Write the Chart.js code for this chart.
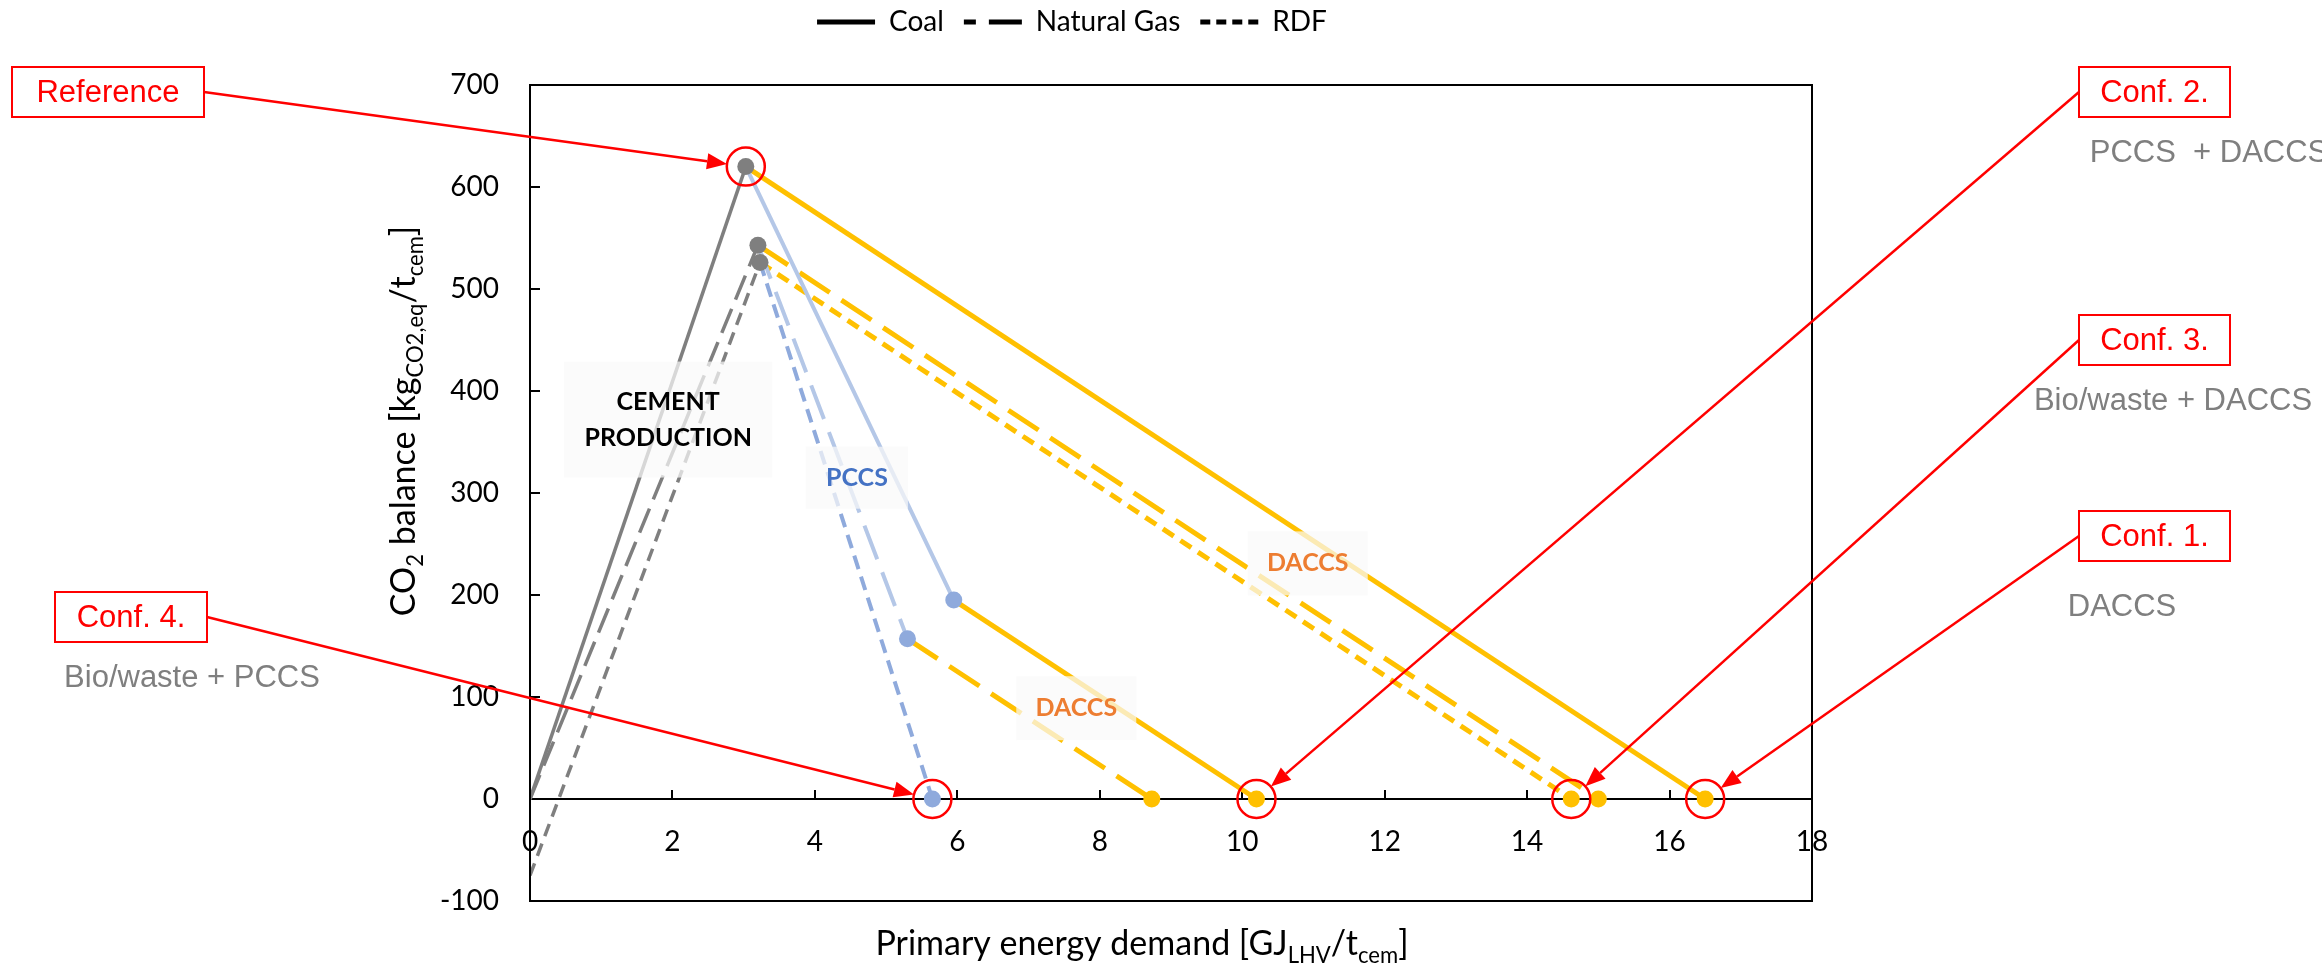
<!DOCTYPE html>
<html>
<head>
  <meta charset="utf-8">
  <title>CO2 balance vs primary energy demand</title>
  <style>
    html, body {
      margin: 0;
      padding: 0;
      background: #ffffff;
    }
    .chart-container {
      position: relative;
      width: 2322px;
      height: 966px;
    }
  </style>
  <script src="https://cdn.jsdelivr.net/npm/chart.js"></script>
</head>
<body>
  <div class="chart-container">
    <canvas id="chartCanvas"></canvas>
  </div>

  <script>
    // Fuels and the points of each path (energy in GJ/t cem, CO2 in kg CO2,eq/t cem)
    var fuels = ['Coal', 'Natural Gas', 'RDF'];
    var startEnergy = [0, 0, 0];
    var startCO2 = [0, 0, -75];
    var refEnergy = [3.03, 3.2, 3.23];
    var refCO2 = [620, 543, 526];
    var pccsEnergy = [5.95, 5.3, 5.65];
    var pccsCO2 = [195, 157, 0];
    var pccsDaccsEnergy = [10.2, 8.73, null];
    var pccsDaccsCO2 = [0, 0, null];
    var daccsEnergy = [16.5, 15.0, 14.62];
    var daccsCO2 = [0, 0, 0];

    // Tick labels
    var xTickValues = [0, 2, 4, 6, 8, 10, 12, 14, 16, 18];
    var yTickValues = [-100, 0, 100, 200, 300, 400, 500, 600, 700];

    // Styles
    var GRAY = '#7f7f7f';
    var YELLOW = '#ffc000';
    var BLUE_DOT = '#8faadc';
    var RED = '#ff0000';
    var blueLine = ['#b4c7e7', '#b4c7e7', '#8faadc'];
    var grayDash = [[], [26, 10], [13, 8]];
    var blueDash = [[], [36, 14], [14, 8]];
    var yellowDash = [[], [36, 14], [13, 8]];
    var legendDash = [[], [34, 13], [10, 6]];
    var legendDashOffset = [0, 22, 0];

    Chart.defaults.font.family = 'Lato';
    Chart.defaults.color = '#000';

    function segment(label, x0, y0, x1, y1, color, width, dash, dotColor) {
      return {
        label: label,
        data: [{ x: x0, y: y0 }, { x: x1, y: y1 }],
        borderColor: color,
        borderWidth: width,
        borderDash: dash,
        borderCapStyle: 'butt',
        pointRadius: [0, 8.5],
        pointBorderWidth: 0,
        pointBackgroundColor: dotColor,
        fill: false,
        tension: 0
      };
    }

    // gray first so that its dots end up on top
    var datasets = [];
    fuels.forEach(function(f, i) {
      datasets.push(segment(f + ' production', startEnergy[i], startCO2[i], refEnergy[i], refCO2[i], GRAY, 3.5, grayDash[i], GRAY));
    });
    fuels.forEach(function(f, i) {
      datasets.push(segment(f + ' PCCS', refEnergy[i], refCO2[i], pccsEnergy[i], pccsCO2[i], blueLine[i], 4, blueDash[i], BLUE_DOT));
    });
    fuels.forEach(function(f, i) {
      if (pccsDaccsEnergy[i] !== null) {
        datasets.push(segment(f + ' PCCS + DACCS', pccsEnergy[i], pccsCO2[i], pccsDaccsEnergy[i], pccsDaccsCO2[i], YELLOW, 5, yellowDash[i], YELLOW));
      }
      datasets.push(segment(f + ' DACCS', refEnergy[i], refCO2[i], daccsEnergy[i], daccsCO2[i], YELLOW, 5, yellowDash[i], YELLOW));
    });

    // Text labels inside the plot (positions in data units)
    var plotLabels = [
      { lines: ['CEMENT', 'PRODUCTION'], x: 1.94, y: 372, color: '#000000', w: 208, h: 116 },
      { lines: ['PCCS'], x: 4.59, y: 315, color: '#4472c4', w: 102, h: 62 },
      { lines: ['DACCS'], x: 10.92, y: 231, color: '#ed7d31', w: 120, h: 64 },
      { lines: ['DACCS'], x: 7.67, y: 89, color: '#ed7d31', w: 120, h: 64 }
    ];

    // Red call-outs: box in page pixels, target point from the data
    var callouts = [
      { title: 'Reference', note: '', box: [12, 67, 192, 50], side: 'right', pt: [refEnergy[0], refCO2[0]] },
      { title: 'Conf. 2.', note: 'PCCS  + DACCS', noteAt: [2209, 153], box: [2079, 67, 151, 50], side: 'left', pt: [pccsDaccsEnergy[0], pccsDaccsCO2[0]] },
      { title: 'Conf. 3.', note: 'Bio/waste + DACCS', noteAt: [2173, 401], box: [2079, 315, 151, 50], side: 'left', pt: [daccsEnergy[2], daccsCO2[2]] },
      { title: 'Conf. 1.', note: 'DACCS', noteAt: [2122, 607], box: [2079, 511, 151, 50], side: 'left', pt: [daccsEnergy[0], daccsCO2[0]] },
      { title: 'Conf. 4.', note: 'Bio/waste + PCCS', noteAt: [192, 678], box: [55, 592, 152, 50], side: 'right', pt: [pccsEnergy[2], pccsCO2[2]] }
    ];

    var yTitle = [['CO'], ['2', 1], [' balance [kg'], ['CO2,eq', 1], ['/t'], ['cem', 1], [']']];
    var xTitle = [['Primary energy demand [GJ'], ['LHV', 1], ['/t'], ['cem', 1], [']']];

    // Draws text with subscripts, centred on (x, y)
    function richText(ctx, parts, size, x, y, rotate) {
      ctx.save();
      ctx.translate(x, y);
      if (rotate) ctx.rotate(-Math.PI / 2);
      var total = 0;
      parts.forEach(function(p) {
        ctx.font = (p[1] ? size * 0.65 : size) + 'px Lato';
        total += ctx.measureText(p[0]).width;
      });
      var cx = -total / 2;
      ctx.fillStyle = '#000';
      ctx.textAlign = 'left';
      ctx.textBaseline = 'alphabetic';
      parts.forEach(function(p) {
        ctx.font = (p[1] ? size * 0.65 : size) + 'px Lato';
        ctx.fillText(p[0], cx, size * 0.36 + (p[1] ? size * 0.22 : 0));
        cx += ctx.measureText(p[0]).width;
      });
      ctx.restore();
    }

    var overlay = {
      id: 'overlay',
      afterDatasetsDraw: function(chart) {
        var ctx = chart.ctx, xs = chart.scales.x, ys = chart.scales.y;
        plotLabels.forEach(function(l) {
          var cx = xs.getPixelForValue(l.x), cy = ys.getPixelForValue(l.y);
          ctx.save();
          ctx.fillStyle = 'rgba(250,250,250,0.72)';
          ctx.fillRect(cx - l.w / 2, cy - l.h / 2, l.w, l.h);
          ctx.fillStyle = l.color;
          ctx.font = 'bold 25px Lato';
          ctx.textAlign = 'center';
          ctx.textBaseline = 'middle';
          l.lines.forEach(function(t, k) {
            ctx.fillText(t, cx, cy + (k - (l.lines.length - 1) / 2) * 36);
          });
          ctx.restore();
        });
      },
      afterDraw: function(chart) {
        var ctx = chart.ctx, a = chart.chartArea, xs = chart.scales.x, ys = chart.scales.y;

        // plot frame
        ctx.save();
        ctx.strokeStyle = '#000';
        ctx.lineWidth = 2;
        ctx.strokeRect(a.left, a.top, a.right - a.left, a.bottom - a.top);
        ctx.restore();

        richText(ctx, yTitle, 34, 403, 421, true);
        richText(ctx, xTitle, 34, 1142, 943, false);

        callouts.forEach(function(c) {
          var b = c.box;
          var px = xs.getPixelForValue(c.pt[0]), py = ys.getPixelForValue(c.pt[1]);
          var sx = c.side === 'right' ? b[0] + b[2] : b[0];
          var sy = b[1] + b[3] / 2;
          var r = 19;
          ctx.save();
          ctx.strokeStyle = RED;
          ctx.fillStyle = RED;
          ctx.lineWidth = 2.5;
          ctx.beginPath();
          ctx.arc(px, py, r, 0, 2 * Math.PI);
          ctx.stroke();

          var dx = px - sx, dy = py - sy;
          var len = Math.sqrt(dx * dx + dy * dy);
          var ux = dx / len, uy = dy / len;
          var tx = px - ux * r, ty = py - uy * r;
          var hl = 20, hw = 8;
          var bx = tx - ux * hl, by = ty - uy * hl;
          ctx.beginPath();
          ctx.moveTo(sx, sy);
          ctx.lineTo(bx, by);
          ctx.stroke();
          ctx.beginPath();
          ctx.moveTo(tx, ty);
          ctx.lineTo(bx - uy * hw, by + ux * hw);
          ctx.lineTo(bx + uy * hw, by - ux * hw);
          ctx.closePath();
          ctx.fill();

          ctx.fillStyle = '#fff';
          ctx.fillRect(b[0], b[1], b[2], b[3]);
          ctx.lineWidth = 2;
          ctx.strokeRect(b[0], b[1], b[2], b[3]);
          ctx.fillStyle = RED;
          ctx.font = '31px "Liberation Sans"';
          ctx.textAlign = 'center';
          ctx.textBaseline = 'middle';
          ctx.fillText(c.title, b[0] + b[2] / 2, b[1] + b[3] / 2 + 1);
          if (c.note) {
            ctx.fillStyle = GRAY;
            ctx.fillText(c.note, c.noteAt[0], c.noteAt[1]);
          }
          ctx.restore();
        });
      }
    };

    var ctx = document.getElementById('chartCanvas').getContext('2d');
    var co2Chart = new Chart(ctx, {
      type: 'line',
      data: { datasets: datasets },
      options: {
        responsive: true,
        maintainAspectRatio: false,
        animation: false,
        events: [],
        layout: { padding: { left: 332, right: 510, top: -12, bottom: 65 } },
        plugins: {
          tooltip: { enabled: false },
          title: { display: true, text: '', position: 'top', weight: 500, padding: 0, font: { size: 39, lineHeight: 1 } },
          legend: {
            position: 'top',
            labels: {
              usePointStyle: true,
              pointStyleWidth: 58,
              padding: 20,
              color: '#000',
              font: { size: 28 },
              generateLabels: function() {
                return fuels.map(function(f, i) {
                  return {
                    text: f,
                    pointStyle: 'line',
                    strokeStyle: '#000',
                    fillStyle: '#000',
                    lineWidth: 5,
                    lineDash: legendDash[i],
                    lineDashOffset: legendDashOffset[i],
                    hidden: false
                  };
                });
              }
            }
          }
        },
        scales: {
          x: {
            type: 'linear',
            min: 0,
            max: 18,
            position: { y: 0 },
            afterBuildTicks: function(s) {
              s.ticks = xTickValues.map(function(v) { return { value: v }; });
            },
            ticks: { font: { size: 28 }, color: '#000', padding: 36, maxRotation: 0, autoSkip: false },
            grid: { drawOnChartArea: false, drawTicks: true, tickLength: -10, color: '#000', lineWidth: 2 },
            border: { display: true, color: '#000', width: 2 }
          },
          y: {
            type: 'linear',
            min: -100,
            max: 700,
            position: 'left',
            afterBuildTicks: function(s) {
              s.ticks = yTickValues.map(function(v) { return { value: v }; });
            },
            afterFit: function(s) { s.width = 198; },
            ticks: { font: { size: 28 }, color: '#000', padding: 41 },
            grid: { drawOnChartArea: false, drawTicks: true, tickLength: -10, color: '#000', lineWidth: 2 },
            border: { display: true, color: '#000', width: 2 }
          }
        }
      },
      plugins: [overlay]
    });
  </script>
</body>
</html>
